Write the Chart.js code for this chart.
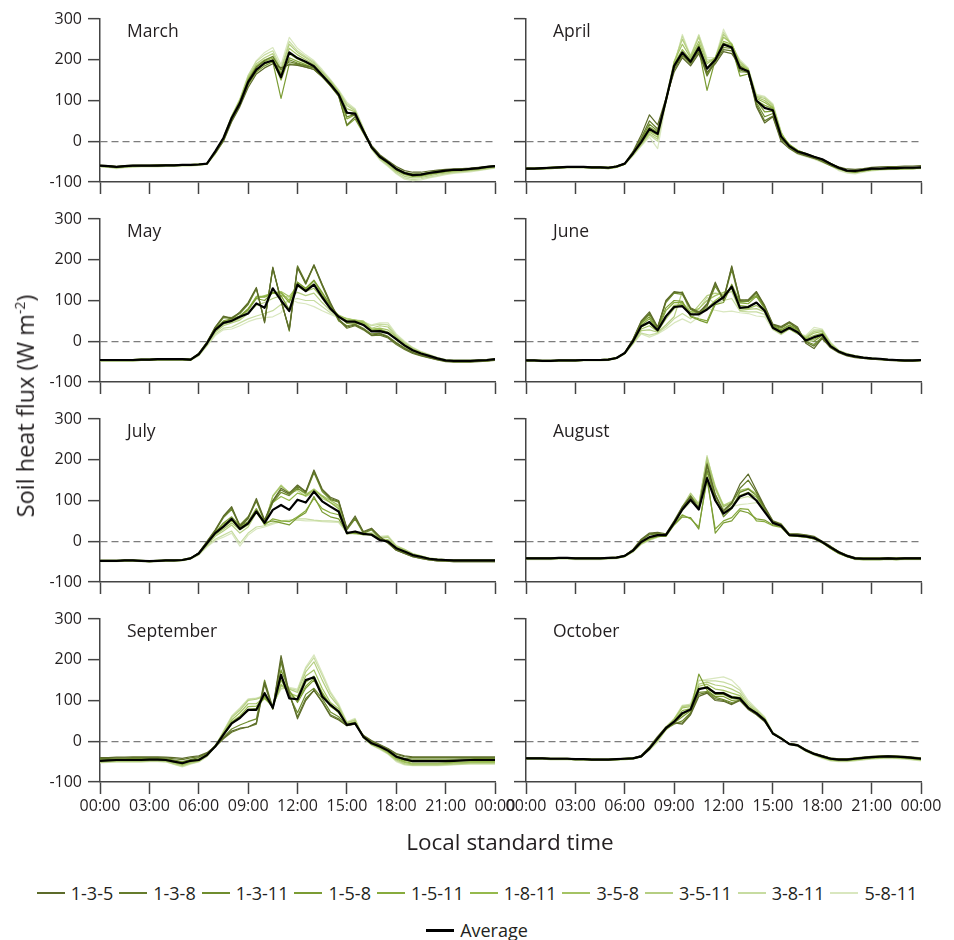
<!DOCTYPE html>
<html>
<head>
<meta charset="utf-8">
<script src="https://cdn.jsdelivr.net/npm/chart.js@4.4.1/dist/chart.umd.min.js"></script>
<style>
html,body{margin:0;padding:0;background:#fff;}
#wrap{position:relative;width:954px;height:940px;overflow:hidden;font-family:'Open Sans',sans-serif;color:#231f20;}
#wrap canvas{position:absolute;}
.month{position:absolute;font-size:17.5px;line-height:1;white-space:nowrap;}
#ytitle{position:absolute;left:25px;top:406px;transform:translate(-50%,-50%) rotate(-90deg);font-size:23.5px;white-space:nowrap;line-height:1.2;}
#ytitle sup{font-size:14px;vertical-align:9px;line-height:0;}
#xtitle{position:absolute;left:510px;top:841px;transform:translate(-50%,-50%);font-size:22.5px;white-space:nowrap;line-height:1.2;}
.legrow{position:absolute;left:0;width:954px;display:flex;justify-content:center;align-items:center;font-size:18px;height:26px;}
.item{display:flex;align-items:center;white-space:nowrap;}
.item + .item{margin-left:6px;}
.swatch{width:28px;height:2px;margin-right:6px;}
</style>
</head>
<body>
<div id="wrap"></div>
<script>
// ---------- data ----------
const timeHours = [0,0.5,1,1.5,2,2.5,3,3.5,4,4.5,5,5.5,6,6.5,7,7.5,8,8.5,9,9.5,10,10.5,11,11.5,12,12.5,13,13.5,14,14.5,15,15.5,16,16.5,17,17.5,18,18.5,19,19.5,20,20.5,21,21.5,22,22.5,23,23.5,24];
const xTickLabels = ['00:00','03:00','06:00','09:00','12:00','15:00','18:00','21:00','00:00'];
const seriesNames = ['1-3-5','1-3-8','1-3-11','1-5-8','1-5-11','1-8-11','3-5-8','3-5-11','3-8-11','5-8-11'];
const seriesColors = ['#5c6b2a','#657c2c','#6f8d2f','#7b9c34','#87ab3d','#95b94c','#a4c364','#b5ce82','#c7dca1','#d9e7bf'];
const monthNames = ['March','April','May','June','July','August','September','October'];

const marchAverage = [-60,-61,-63,-61,-60,-60,-60,-60,-59,-59,-58,-58,-57,-55,-25,8,57,93,145,176,192,198,157,218,204,195,184,162,140,115,70,68,25,-15,-38,-52,-68,-78,-83,-82,-78,-75,-72,-70,-70,-68,-66,-63,-61];
const marchSeries = [
[-59,-60,-62,-60,-59,-59,-59,-58,-58,-58,-57,-57,-56,-54,-30,0,48,85,132,165,180,190,180,188,186,182,176,158,138,112,72,62,28,-10,-33,-48,-62,-72,-76,-76,-73,-71,-69,-68,-67,-66,-64,-62,-60],
[-61,-62,-64,-62,-61,-61,-61,-60,-60,-60,-59,-59,-57,-55,-26,6,58,98,150,182,198,208,175,195,190,185,180,160,136,110,40,60,22,-14,-38,-52,-68,-78,-82,-81,-77,-74,-72,-70,-69,-67,-66,-63,-61],
[-60,-60,-62,-61,-60,-59,-59,-59,-58,-58,-58,-57,-56,-54,-27,4,52,90,140,172,190,200,165,200,192,186,180,160,138,113,60,66,26,-12,-35,-50,-66,-76,-80,-80,-76,-73,-71,-70,-69,-67,-65,-62,-60],
[-62,-63,-65,-63,-62,-61,-61,-61,-60,-60,-59,-59,-58,-56,-30,2,50,88,138,170,185,195,105,190,188,182,176,158,136,112,38,55,20,-16,-40,-54,-70,-80,-85,-84,-80,-77,-74,-72,-71,-70,-68,-65,-63],
[-61,-62,-64,-62,-61,-60,-60,-60,-59,-59,-59,-58,-57,-55,-28,5,54,92,145,176,190,198,150,205,196,188,181,162,140,115,55,65,24,-14,-37,-52,-68,-79,-84,-83,-79,-76,-73,-71,-70,-69,-67,-64,-62],
[-60,-61,-63,-61,-60,-60,-60,-60,-59,-59,-58,-58,-57,-55,-27,6,56,95,150,182,196,204,160,215,202,192,184,163,142,117,68,70,26,-15,-38,-53,-69,-80,-85,-84,-80,-77,-74,-72,-71,-69,-67,-64,-62],
[-59,-60,-62,-60,-59,-59,-59,-58,-58,-58,-57,-57,-56,-54,-26,8,60,100,155,186,200,208,168,228,212,200,188,166,145,120,80,72,28,-16,-40,-55,-72,-82,-87,-86,-82,-79,-76,-73,-72,-70,-68,-65,-62],
[-61,-62,-64,-62,-61,-61,-61,-61,-60,-60,-59,-59,-57,-55,-25,10,62,102,158,190,205,215,175,238,218,205,192,170,148,122,88,75,30,-18,-42,-58,-75,-86,-90,-89,-85,-81,-78,-75,-74,-72,-70,-67,-64],
[-62,-63,-66,-64,-63,-62,-62,-62,-61,-61,-60,-60,-58,-56,-26,9,62,104,162,196,212,222,180,245,222,208,195,172,150,124,92,78,32,-18,-44,-60,-78,-90,-94,-92,-88,-84,-80,-77,-75,-73,-71,-68,-65],
[-63,-64,-67,-65,-64,-63,-63,-63,-62,-62,-61,-61,-59,-57,-32,0,55,98,160,198,218,230,188,255,228,212,198,176,152,126,96,80,34,-20,-46,-62,-80,-93,-97,-95,-90,-86,-82,-79,-77,-75,-72,-69,-66]
];

const aprilAverage = [-67,-67,-66,-65,-64,-63,-63,-63,-64,-64,-65,-62,-55,-30,-2,30,18,100,185,218,195,230,178,200,238,230,180,172,100,82,76,12,-12,-25,-31,-38,-44,-55,-65,-72,-73,-70,-67,-67,-66,-66,-65,-65,-64];
const aprilSeries = [
[-66,-66,-65,-64,-63,-62,-62,-62,-63,-63,-64,-61,-54,-25,15,65,40,105,170,205,185,215,170,190,220,215,185,170,85,45,60,0,-18,-30,-36,-42,-47,-57,-63,-68,-69,-67,-64,-63,-62,-62,-61,-61,-60],
[-68,-68,-67,-66,-65,-64,-64,-64,-65,-65,-66,-63,-55,-28,8,50,30,100,175,210,190,220,160,195,225,222,175,168,90,50,62,5,-15,-28,-35,-41,-50,-60,-68,-74,-75,-72,-69,-68,-67,-67,-66,-66,-65],
[-67,-67,-66,-65,-64,-63,-63,-63,-64,-64,-65,-62,-55,-28,4,42,25,98,180,212,192,225,165,198,230,228,170,170,95,60,68,8,-12,-26,-33,-40,-46,-58,-66,-72,-74,-71,-68,-68,-67,-66,-65,-65,-64],
[-69,-69,-68,-67,-66,-65,-65,-65,-66,-66,-67,-64,-56,-30,2,35,22,100,182,215,190,225,125,200,235,232,160,165,100,72,74,10,-10,-24,-30,-38,-45,-56,-66,-73,-76,-73,-70,-69,-68,-68,-67,-67,-66],
[-66,-66,-65,-64,-63,-62,-62,-62,-63,-63,-64,-61,-55,-30,0,30,20,95,185,218,195,232,165,200,240,235,180,172,100,88,80,14,-8,-22,-30,-38,-44,-54,-64,-72,-74,-71,-68,-67,-66,-66,-65,-65,-64],
[-68,-68,-67,-66,-65,-64,-64,-64,-65,-65,-66,-63,-56,-32,-4,25,15,100,190,225,200,238,180,205,245,238,185,175,105,95,82,18,-8,-22,-30,-37,-45,-55,-66,-74,-76,-73,-70,-69,-68,-68,-67,-67,-66],
[-67,-67,-66,-65,-64,-63,-63,-63,-64,-64,-65,-62,-56,-33,-6,22,10,105,195,238,205,245,190,205,255,240,190,175,108,100,84,20,-10,-25,-32,-38,-45,-54,-64,-72,-73,-70,-68,-67,-66,-66,-65,-65,-64],
[-66,-66,-65,-64,-63,-62,-62,-62,-63,-63,-64,-61,-55,-33,-8,18,5,100,195,250,210,255,195,205,262,238,195,178,110,105,88,22,-14,-28,-34,-40,-47,-55,-65,-74,-75,-72,-69,-68,-67,-67,-66,-66,-65],
[-68,-68,-67,-66,-65,-64,-64,-64,-65,-65,-66,-63,-56,-35,-10,15,0,98,190,258,205,260,200,200,268,236,195,176,112,108,90,22,-16,-30,-36,-42,-50,-58,-70,-76,-78,-74,-71,-70,-69,-68,-68,-67,-66],
[-69,-69,-68,-67,-66,-65,-65,-65,-66,-66,-67,-64,-57,-36,-12,10,-18,95,185,262,210,262,205,205,275,235,200,180,115,110,92,24,-18,-32,-38,-44,-52,-60,-72,-78,-80,-76,-73,-71,-70,-69,-69,-68,-67]
];

const mayAverage = [-46,-46,-46,-46,-46,-45,-45,-44,-44,-44,-44,-45,-32,-5,28,45,50,60,68,93,82,130,100,74,139,123,139,108,80,60,48,48,40,24,25,20,5,-10,-22,-30,-36,-42,-47,-48,-48,-48,-47,-46,-44];
const maySeries = [
[-46,-46,-46,-46,-46,-45,-45,-44,-44,-44,-44,-45,-30,-2,35,62,55,72,95,132,45,182,100,28,180,142,188,140,95,55,35,40,30,15,18,10,-5,-18,-28,-35,-40,-45,-49,-50,-50,-50,-49,-48,-46],
[-47,-47,-47,-47,-47,-46,-46,-45,-45,-45,-45,-46,-31,-3,34,60,58,70,92,130,48,180,98,30,185,145,186,138,92,52,32,38,28,14,15,8,-8,-20,-30,-36,-41,-46,-50,-51,-51,-51,-50,-49,-47],
[-45,-45,-45,-45,-45,-44,-44,-43,-43,-43,-43,-44,-30,-2,32,58,56,68,90,128,50,178,102,25,182,140,185,136,90,50,38,42,32,18,20,12,-3,-16,-27,-34,-39,-44,-48,-49,-49,-49,-48,-47,-45],
[-48,-48,-48,-48,-48,-47,-47,-46,-46,-46,-46,-47,-32,-4,30,50,55,62,78,105,100,120,112,78,145,130,150,120,88,62,44,45,40,25,26,20,4,-12,-24,-32,-38,-44,-48,-50,-50,-50,-49,-48,-46],
[-46,-46,-46,-46,-46,-45,-45,-44,-44,-44,-44,-45,-32,-5,28,48,52,62,80,108,108,118,118,95,140,125,148,115,85,60,48,48,42,26,28,22,6,-10,-22,-30,-37,-43,-47,-48,-48,-48,-47,-46,-44],
[-47,-47,-47,-47,-47,-46,-46,-45,-45,-45,-45,-46,-33,-6,26,45,50,60,78,110,110,120,120,100,145,128,140,112,82,62,50,50,45,28,30,22,6,-10,-22,-30,-37,-43,-47,-48,-48,-48,-47,-46,-45],
[-45,-45,-45,-45,-45,-44,-44,-43,-43,-43,-43,-44,-33,-8,25,42,48,56,75,105,112,118,122,110,135,122,130,105,80,64,55,52,48,30,32,28,10,-6,-20,-28,-35,-42,-46,-47,-47,-47,-46,-45,-44],
[-46,-46,-46,-46,-46,-45,-45,-44,-44,-44,-44,-45,-34,-8,22,38,45,52,68,88,95,105,112,108,120,112,118,95,75,62,55,52,50,32,38,35,12,-4,-18,-27,-34,-41,-46,-47,-47,-47,-46,-45,-44],
[-47,-47,-47,-47,-47,-46,-46,-45,-45,-45,-45,-46,-35,-10,18,32,35,45,55,62,68,75,90,100,105,100,100,85,70,60,56,52,48,38,42,40,15,-2,-16,-26,-33,-40,-45,-47,-47,-47,-46,-45,-44],
[-48,-48,-48,-48,-48,-47,-47,-46,-46,-46,-46,-47,-36,-12,14,28,30,38,48,55,58,60,70,105,95,92,85,75,66,58,52,50,48,40,45,45,18,0,-15,-25,-32,-40,-45,-47,-48,-48,-47,-46,-45]
];

const juneAverage = [-47,-47,-48,-48,-47,-47,-47,-46,-46,-46,-45,-41,-29,0,37,47,27,61,84,86,66,66,78,94,108,134,82,84,95,75,33,22,33,22,2,10,16,-12,-25,-33,-37,-40,-42,-43,-45,-46,-47,-47,-46];
const juneSeries = [
[-47,-47,-48,-48,-47,-47,-47,-46,-46,-46,-45,-41,-28,5,50,72,35,100,122,118,80,70,92,145,100,185,100,102,122,88,42,36,48,35,-5,-18,8,-16,-28,-36,-40,-42,-44,-45,-47,-48,-49,-49,-48],
[-48,-48,-49,-49,-48,-48,-48,-47,-47,-47,-46,-42,-28,4,48,68,32,98,120,120,82,72,88,140,105,182,102,100,120,85,40,34,46,32,-2,-12,6,-14,-27,-35,-39,-42,-44,-45,-46,-47,-48,-48,-47],
[-46,-46,-47,-47,-46,-46,-46,-45,-45,-45,-44,-40,-29,3,46,66,34,95,118,115,78,68,85,135,102,175,98,98,118,84,38,32,45,30,0,-8,10,-14,-26,-34,-38,-41,-43,-44,-46,-47,-48,-48,-47],
[-47,-47,-48,-48,-47,-47,-47,-46,-46,-46,-45,-41,-29,2,44,60,30,82,100,98,60,52,45,90,95,140,96,98,112,82,38,28,40,28,2,0,14,-12,-26,-34,-38,-41,-43,-44,-46,-47,-48,-48,-47],
[-48,-48,-49,-49,-48,-48,-48,-47,-47,-47,-46,-42,-29,0,40,55,28,75,95,95,62,55,50,95,110,135,94,92,110,80,36,26,38,25,4,5,16,-12,-25,-33,-37,-41,-43,-44,-46,-47,-48,-48,-47],
[-47,-47,-48,-48,-47,-47,-47,-46,-46,-46,-45,-41,-30,-2,35,45,25,62,88,90,72,70,80,100,115,130,88,85,95,78,34,22,34,22,6,14,20,-10,-25,-33,-37,-40,-42,-43,-45,-46,-47,-47,-46],
[-46,-46,-47,-47,-46,-46,-46,-45,-45,-45,-44,-40,-30,-4,30,38,24,55,80,95,72,80,100,112,120,128,80,80,88,75,32,20,30,20,8,20,24,-8,-24,-32,-36,-40,-42,-43,-45,-46,-47,-47,-46],
[-47,-47,-48,-48,-47,-47,-47,-46,-46,-46,-45,-41,-30,-5,26,28,22,40,60,122,65,88,112,118,115,122,76,78,80,72,30,18,30,18,10,24,26,-6,-23,-31,-36,-40,-42,-43,-45,-46,-47,-47,-46],
[-48,-48,-49,-49,-48,-48,-48,-47,-47,-47,-46,-42,-31,-6,20,15,20,35,55,68,55,78,108,92,100,105,74,72,72,66,30,18,32,20,12,28,28,-4,-22,-30,-35,-39,-41,-43,-45,-46,-47,-47,-46],
[-49,-49,-50,-50,-49,-49,-49,-48,-48,-48,-47,-43,-31,-7,18,10,18,30,45,55,45,60,80,76,72,74,70,68,62,60,28,16,30,18,14,34,30,-2,-22,-30,-35,-39,-41,-43,-45,-46,-47,-47,-46]
];

const julyAverage = [-48,-48,-48,-47,-47,-48,-49,-48,-47,-47,-46,-42,-30,-5,20,36,55,30,44,73,45,77,89,77,102,95,122,98,85,73,20,24,18,16,3,-1,-17,-25,-34,-38,-43,-45,-46,-47,-47,-47,-47,-47,-47];
const julySeries = [
[-48,-48,-48,-47,-47,-48,-49,-48,-47,-47,-46,-42,-28,0,28,62,85,38,58,105,52,100,130,118,138,122,175,128,108,100,32,62,24,32,12,-4,-22,-30,-38,-42,-46,-48,-49,-50,-50,-50,-50,-50,-50],
[-49,-49,-49,-48,-48,-49,-50,-49,-48,-48,-47,-43,-29,-2,25,60,82,35,55,100,50,98,126,115,135,120,172,126,105,98,30,58,22,30,10,-5,-22,-30,-38,-42,-46,-48,-49,-50,-50,-50,-50,-50,-50],
[-47,-47,-47,-46,-46,-47,-48,-47,-46,-46,-45,-41,-29,-1,26,58,78,40,60,98,48,95,120,112,130,118,168,122,102,96,28,55,20,28,8,-2,-20,-28,-36,-40,-44,-46,-47,-48,-48,-48,-48,-48,-48],
[-48,-48,-48,-47,-47,-48,-49,-48,-47,-47,-46,-42,-30,-4,22,45,60,38,48,80,45,50,45,40,58,70,110,72,60,55,22,20,16,18,6,0,-18,-26,-34,-39,-44,-46,-47,-48,-48,-48,-48,-48,-48],
[-49,-49,-49,-48,-48,-49,-50,-49,-48,-48,-47,-43,-30,-5,20,42,55,35,45,75,40,55,50,48,60,75,105,80,70,65,22,22,16,16,4,-2,-18,-26,-34,-38,-43,-45,-46,-47,-47,-47,-47,-47,-47],
[-48,-48,-48,-47,-47,-48,-49,-48,-47,-47,-46,-42,-31,-6,18,35,50,32,42,72,45,95,110,100,118,112,125,110,95,80,20,20,18,15,4,0,-16,-24,-33,-38,-43,-45,-46,-47,-47,-47,-47,-47,-47],
[-47,-47,-47,-46,-46,-47,-48,-47,-46,-46,-45,-41,-31,-8,16,30,45,28,40,75,45,110,135,120,130,115,128,112,100,88,18,20,20,16,6,4,-14,-22,-32,-37,-42,-44,-45,-46,-46,-46,-46,-46,-46],
[-48,-48,-48,-47,-47,-48,-49,-48,-47,-47,-46,-42,-32,-10,12,25,40,20,35,70,42,112,138,118,125,110,120,105,95,85,18,22,22,18,8,10,-12,-20,-30,-36,-41,-44,-45,-46,-46,-46,-46,-46,-46],
[-49,-49,-49,-48,-48,-49,-50,-49,-48,-48,-47,-43,-33,-12,5,15,25,-5,20,35,38,45,50,52,55,55,52,50,50,48,20,18,16,20,10,12,-12,-22,-32,-37,-42,-45,-46,-47,-47,-47,-47,-47,-47],
[-50,-50,-50,-49,-49,-50,-51,-50,-49,-49,-48,-44,-34,-14,2,10,20,-12,15,30,35,42,48,50,52,50,50,48,47,46,22,18,16,22,12,14,-10,-20,-31,-36,-42,-45,-46,-47,-48,-48,-48,-48,-48]
];

const augustAverage = [-42,-42,-42,-42,-41,-41,-42,-42,-42,-42,-41,-40,-36,-23,-2,10,15,15,45,78,102,78,155,100,68,82,110,118,100,72,45,38,15,14,12,8,-2,-15,-27,-36,-42,-43,-43,-43,-42,-43,-42,-42,-42];
const augustSeries = [
[-41,-41,-41,-41,-40,-40,-41,-41,-41,-41,-40,-39,-35,-20,5,20,22,18,50,85,110,82,190,115,75,95,140,165,125,85,50,42,18,18,16,12,0,-12,-25,-34,-40,-41,-41,-41,-40,-41,-40,-40,-40],
[-42,-42,-42,-42,-41,-41,-42,-42,-42,-42,-41,-40,-35,-21,3,18,20,16,48,82,108,80,185,112,72,92,130,150,120,82,48,40,17,16,14,10,-1,-13,-26,-35,-41,-42,-42,-42,-41,-42,-41,-41,-41],
[-41,-41,-41,-41,-40,-40,-41,-41,-41,-41,-40,-39,-35,-21,2,16,18,15,46,80,112,78,175,105,60,80,120,128,112,80,46,40,17,15,13,10,-1,-13,-26,-35,-41,-42,-42,-42,-41,-42,-41,-41,-41],
[-43,-43,-43,-43,-42,-42,-43,-43,-43,-43,-42,-41,-37,-24,-2,8,12,12,40,60,58,30,160,20,45,50,75,70,55,52,40,36,14,12,10,6,-4,-18,-30,-38,-44,-45,-45,-45,-44,-45,-44,-44,-44],
[-42,-42,-42,-42,-41,-41,-42,-42,-42,-42,-41,-40,-36,-23,-3,8,12,13,42,65,55,35,150,30,50,58,80,78,50,48,38,34,14,12,10,6,-4,-18,-30,-38,-43,-44,-44,-44,-43,-44,-43,-43,-43],
[-43,-43,-43,-43,-42,-42,-43,-43,-43,-43,-42,-41,-37,-24,-4,6,12,14,44,78,100,82,170,115,70,85,112,120,108,78,44,38,15,14,12,8,-2,-16,-28,-37,-43,-44,-44,-44,-43,-44,-43,-43,-43],
[-42,-42,-42,-42,-41,-41,-42,-42,-42,-42,-41,-40,-36,-24,-5,5,12,15,44,80,112,88,195,130,85,95,125,130,115,80,45,40,16,16,13,8,-2,-15,-27,-36,-42,-43,-43,-43,-42,-43,-42,-42,-42],
[-43,-43,-43,-43,-42,-42,-43,-43,-43,-43,-42,-41,-37,-25,-6,4,11,15,46,85,118,92,205,135,88,98,122,128,118,82,46,40,15,16,12,8,-3,-16,-28,-37,-43,-44,-44,-44,-43,-44,-43,-43,-43],
[-44,-44,-44,-44,-43,-43,-44,-44,-44,-44,-43,-42,-38,-26,-7,3,10,15,44,82,112,90,210,128,80,92,105,110,100,78,48,42,16,16,14,10,-2,-15,-27,-37,-44,-45,-45,-45,-44,-45,-44,-44,-44],
[-45,-45,-45,-45,-44,-44,-45,-45,-45,-45,-44,-43,-38,-27,-8,2,10,16,40,75,95,85,200,125,90,85,90,92,95,80,50,44,18,18,15,11,-2,-15,-28,-38,-45,-46,-46,-46,-45,-46,-45,-45,-45]
];

const septemberAverage = [-48,-47,-46,-46,-46,-46,-45,-45,-46,-50,-54,-48,-46,-34,-13,16,44,57,77,77,118,82,163,105,103,150,157,110,89,73,40,44,11,-5,-13,-23,-38,-44,-49,-49,-49,-49,-49,-48,-47,-46,-46,-46,-46];
const septemberSeries = [
[-40,-40,-39,-39,-38,-38,-38,-38,-39,-40,-42,-38,-36,-28,-12,8,25,32,35,45,145,80,210,118,55,100,125,96,62,52,38,42,15,2,-8,-18,-30,-36,-38,-38,-38,-38,-38,-38,-38,-38,-38,-38,-38],
[-42,-42,-41,-41,-40,-40,-40,-40,-41,-43,-45,-41,-38,-30,-14,6,22,30,35,42,140,78,200,115,60,105,125,98,65,55,38,44,14,0,-10,-20,-32,-38,-40,-40,-40,-40,-40,-40,-40,-40,-40,-40,-40],
[-44,-44,-43,-43,-42,-42,-42,-42,-43,-46,-50,-45,-40,-30,-12,10,30,40,48,55,150,82,195,112,70,115,130,105,72,60,40,45,13,-2,-12,-22,-36,-42,-44,-44,-44,-44,-44,-44,-43,-43,-42,-42,-42],
[-46,-45,-44,-44,-44,-44,-43,-43,-44,-48,-52,-47,-44,-32,-10,18,45,60,75,80,120,80,175,125,95,130,150,115,88,70,40,45,12,-4,-12,-24,-38,-45,-48,-48,-48,-48,-48,-47,-46,-45,-45,-45,-45],
[-47,-46,-45,-45,-45,-45,-44,-44,-45,-49,-54,-48,-45,-33,-11,15,42,58,78,80,110,82,160,120,100,135,155,118,85,72,40,44,10,-6,-14,-26,-40,-47,-50,-50,-50,-50,-50,-49,-48,-47,-47,-47,-47],
[-49,-48,-47,-47,-47,-47,-46,-46,-47,-51,-56,-50,-47,-35,-13,18,48,62,85,86,105,85,150,115,100,145,160,120,90,75,42,46,10,-6,-15,-26,-42,-50,-54,-54,-54,-54,-53,-52,-51,-50,-50,-50,-50],
[-50,-49,-48,-48,-48,-48,-47,-47,-48,-53,-58,-52,-48,-35,-12,20,52,70,92,92,108,85,140,118,110,160,175,130,95,80,42,48,10,-8,-16,-28,-44,-52,-56,-56,-56,-56,-55,-54,-53,-52,-52,-52,-52],
[-51,-50,-49,-49,-49,-49,-48,-48,-49,-55,-60,-54,-49,-36,-12,22,58,76,100,103,110,88,135,128,120,170,195,150,110,85,45,52,10,-8,-18,-30,-46,-55,-58,-58,-58,-58,-57,-56,-55,-54,-54,-54,-54],
[-52,-51,-50,-50,-50,-50,-49,-49,-50,-56,-62,-55,-50,-37,-12,24,60,80,102,105,112,90,130,130,125,178,205,162,118,88,46,54,9,-9,-18,-30,-48,-57,-59,-59,-59,-59,-58,-57,-56,-55,-55,-55,-55],
[-53,-52,-51,-51,-51,-51,-50,-50,-51,-57,-63,-56,-51,-38,-13,25,62,82,104,106,112,92,128,132,128,182,212,168,122,92,48,56,8,-10,-20,-32,-50,-58,-60,-60,-60,-60,-59,-58,-57,-56,-56,-56,-56]
];

const octoberAverage = [-42,-42,-42,-43,-43,-43,-44,-44,-45,-45,-45,-44,-43,-42,-37,-18,7,32,48,69,78,128,132,118,118,108,105,82,69,52,19,7,-7,-10,-22,-31,-37,-43,-45,-45,-43,-41,-39,-38,-37,-38,-39,-41,-43];
const octoberSeries = [
[-41,-41,-41,-42,-42,-42,-43,-43,-44,-44,-44,-43,-42,-41,-35,-14,12,35,45,42,65,110,118,100,98,90,100,78,65,48,18,6,-5,-8,-20,-29,-35,-41,-43,-43,-41,-39,-37,-36,-35,-36,-37,-39,-41],
[-42,-42,-42,-43,-43,-43,-44,-44,-45,-45,-45,-44,-43,-42,-36,-15,10,33,44,45,68,115,120,104,100,92,102,80,66,50,18,6,-6,-9,-21,-30,-36,-42,-44,-44,-42,-40,-38,-37,-36,-37,-38,-40,-42],
[-41,-41,-41,-42,-42,-42,-43,-43,-44,-44,-44,-43,-42,-41,-36,-16,8,30,42,50,70,120,122,108,102,95,100,80,68,52,19,7,-6,-9,-21,-30,-36,-42,-44,-44,-42,-40,-38,-37,-36,-37,-38,-40,-42],
[-43,-43,-43,-44,-44,-44,-45,-45,-46,-46,-46,-45,-44,-43,-38,-18,5,28,45,60,75,165,125,110,110,100,102,82,70,52,18,6,-7,-10,-22,-31,-38,-44,-46,-46,-44,-42,-40,-39,-38,-39,-40,-42,-44],
[-42,-42,-42,-43,-43,-43,-44,-44,-45,-45,-45,-44,-43,-42,-38,-18,6,30,48,65,78,130,130,115,115,105,104,82,70,54,19,7,-7,-10,-22,-32,-38,-44,-46,-46,-44,-42,-40,-39,-38,-39,-40,-42,-44],
[-43,-43,-43,-44,-44,-44,-45,-45,-46,-46,-46,-45,-44,-43,-38,-19,5,32,50,75,80,128,135,118,120,110,108,84,70,54,19,8,-7,-10,-23,-32,-39,-45,-47,-47,-45,-43,-41,-40,-39,-40,-41,-43,-45],
[-42,-42,-42,-43,-43,-43,-44,-44,-45,-45,-45,-44,-43,-42,-37,-20,4,35,55,82,85,135,140,128,125,118,112,86,72,55,20,8,-7,-11,-23,-32,-39,-45,-47,-47,-45,-43,-41,-40,-39,-40,-41,-43,-45],
[-43,-43,-43,-44,-44,-44,-45,-45,-46,-46,-46,-45,-44,-43,-37,-20,2,30,52,85,88,140,145,138,135,128,118,90,75,56,20,8,-8,-11,-24,-33,-40,-46,-48,-48,-46,-44,-42,-41,-40,-41,-42,-44,-46],
[-44,-44,-44,-45,-45,-45,-46,-46,-47,-47,-47,-46,-45,-44,-38,-21,0,30,55,88,90,150,148,148,145,138,125,95,78,58,21,8,-8,-12,-24,-33,-41,-47,-49,-49,-47,-45,-43,-42,-41,-42,-43,-45,-47],
[-44,-44,-44,-45,-45,-45,-46,-46,-47,-47,-47,-46,-45,-44,-38,-22,-2,28,52,85,92,148,152,155,158,150,130,100,80,60,22,9,-8,-12,-25,-34,-42,-48,-50,-50,-48,-46,-44,-43,-42,-43,-44,-46,-48]
];

const panelSeries = [marchSeries, aprilSeries, maySeries, juneSeries, julySeries, augustSeries, septemberSeries, octoberSeries];
const panelAverages = [marchAverage, aprilAverage, mayAverage, juneAverage, julyAverage, augustAverage, septemberAverage, octoberAverage];

// ---------- drawing ----------
Chart.defaults.font.family = "'Open Sans', sans-serif";
Chart.defaults.font.size = 16;
Chart.defaults.color = '#231f20';

const wrap = document.getElementById('wrap');
const AXIS = '#444444';

function buildPanel(k) {
  const col = k % 2, row = Math.floor(k / 2);
  const isLeft = col === 0, isBottom = row === 3;
  const cw = isLeft ? 520 : 454, ch = isBottom ? 240 : 200;
  const canvas = document.createElement('canvas');
  canvas.width = cw; canvas.height = ch;
  canvas.style.left = (isLeft ? 0 : 500) + 'px';
  canvas.style.top = (row * 200) + 'px';
  canvas.style.width = cw + 'px'; canvas.style.height = ch + 'px';
  wrap.appendChild(canvas);

  const datasets = [{label: 'Average', data: panelAverages[k], borderColor: '#000000', borderWidth: 2.2}];
  panelSeries[k].forEach((s, i) => datasets.push({label: seriesNames[i], data: s, borderColor: seriesColors[i], borderWidth: 1.2}));

  new Chart(canvas, {
    type: 'line',
    data: {labels: timeHours, datasets},
    options: {
      responsive: false, animation: false, devicePixelRatio: 1,
      layout: {padding: {top: 19, right: isLeft ? 25 : 33, bottom: 0, left: 0}},
      elements: {point: {radius: 0}, line: {tension: 0, borderJoinStyle: 'round', fill: false}},
      plugins: {legend: {display: false}, tooltip: {enabled: false}},
      scales: {
        x: {
          type: 'linear', min: 0, max: 24,
          ticks: {stepSize: 3, display: isBottom, padding: 3, maxRotation: 0, autoSkip: false,
                  callback: (v, i) => xTickLabels[i]},
          grid: {drawOnChartArea: false, drawTicks: true, tickLength: 12, tickColor: AXIS, tickWidth: 1.5},
          border: {display: true, color: AXIS, width: 1.5},
          afterFit: s => { s.height = isBottom ? 58 : 18; }
        },
        y: {
          min: -100, max: 300,
          ticks: {stepSize: 100, display: isLeft, padding: 6},
          grid: {drawOnChartArea: true, drawTicks: true, tickLength: 12, tickColor: AXIS, tickWidth: 1.5,
                 lineWidth: 1.3,
                 color: c => (c.tick && c.tick.value === 0) ? '#7d7d7d' : 'rgba(0,0,0,0)'},
          border: {display: true, color: AXIS, width: 1.5, dash: [7, 4]},
          afterFit: s => { s.width = isLeft ? 100 : 26; }
        }
      }
    }
  });

  const lab = document.createElement('div');
  lab.className = 'month';
  lab.textContent = monthNames[k];
  lab.style.left = (isLeft ? 127 : 553) + 'px';
  lab.style.top = (21.5 + row * 200) + 'px';
  wrap.appendChild(lab);
}

for (let k = 0; k < 8; k++) buildPanel(k);

const yt = document.createElement('div');
yt.id = 'ytitle';
yt.innerHTML = 'Soil heat flux (W m<sup>-2</sup>)';
wrap.appendChild(yt);

const xt = document.createElement('div');
xt.id = 'xtitle';
xt.textContent = 'Local standard time';
wrap.appendChild(xt);

const leg1 = document.createElement('div');
leg1.className = 'legrow';
leg1.style.top = '880px';
seriesNames.forEach((n, i) => {
  const it = document.createElement('div'); it.className = 'item';
  const sw = document.createElement('span'); sw.className = 'swatch'; sw.style.background = seriesColors[i];
  const tx = document.createElement('span'); tx.textContent = n;
  it.appendChild(sw); it.appendChild(tx); leg1.appendChild(it);
});
wrap.appendChild(leg1);

const leg2 = document.createElement('div');
leg2.className = 'legrow';
leg2.style.top = '917px';
const it2 = document.createElement('div'); it2.className = 'item';
const sw2 = document.createElement('span'); sw2.className = 'swatch'; sw2.style.background = '#000'; sw2.style.height = '3px';
const tx2 = document.createElement('span'); tx2.textContent = 'Average';
it2.appendChild(sw2); it2.appendChild(tx2); leg2.appendChild(it2);
wrap.appendChild(leg2);
</script>
</body>
</html>
